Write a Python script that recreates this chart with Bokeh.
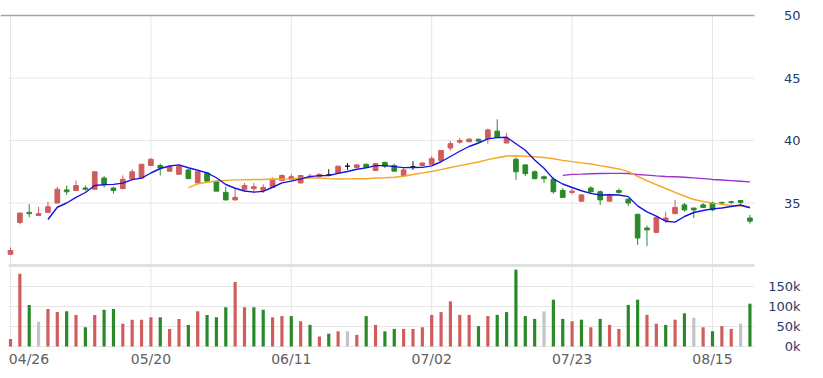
import numpy as np
import pandas as pd
from bokeh.plotting import figure
from bokeh.models import ColumnDataSource, Range1d
from bokeh.core.properties import value
from bokeh.embed import file_html
from bokeh.resources import INLINE

# ---------------- data ----------------
tick_labels = ["04/26", "05/20", "06/11", "07/02", "07/23", "08/15"]
tick_index = [0, 15, 30, 45, 60, 75]

opens = [30.9, 33.45, 34.25, 34.0, 34.25, 35.0, 36.05, 36.0, 36.2, 36.1,
         37.0, 36.2, 36.15, 36.95, 37.0, 38.0, 38.0, 37.55, 37.3, 37.65,
         36.6, 37.4, 36.7, 35.85, 35.25, 36.1, 36.15, 36.0, 36.25, 36.8,
         36.9, 36.6, 37.1, 37.1, 37.25, 37.4, 37.95, 37.85, 38.1, 37.6,
         38.25, 38.0, 37.2, 37.9, 38.0, 38.1, 38.4, 39.4, 39.87, 39.9,
         40.1, 40.15, 40.75, 39.8, 38.5, 38.05, 37.5, 37.1, 36.9, 36.0,
         35.85, 35.15, 36.2, 35.9, 35.15, 36.0, 35.3, 34.1, 33.0, 32.65,
         33.6, 34.15, 34.85, 34.6, 34.85, 35.0, 35.05, 35.1, 35.2, 33.8]
highs = [31.45, 34.2, 34.9, 34.7, 35.1, 36.3, 36.4, 36.8, 36.4, 37.5,
         37.15, 36.3, 37.2, 37.7, 38.1, 38.6, 38.15, 37.95, 38.0, 37.7,
         37.5, 37.5, 36.75, 36.3, 36.2, 36.6, 36.6, 36.5, 37.05, 37.3,
         37.3, 37.25, 37.35, 37.35, 37.7, 37.95, 38.2, 38.1, 38.15, 38.2,
         38.3, 38.15, 37.8, 38.35, 38.25, 38.75, 39.2, 39.95, 40.2, 40.2,
         40.15, 40.95, 41.7, 40.6, 38.65, 38.1, 37.6, 37.2, 37.05, 36.2,
         36.15, 35.7, 36.35, 36.0, 35.75, 36.15, 35.4, 34.1, 33.2, 33.9,
         34.3, 35.25, 35.0, 34.6, 35.0, 35.1, 35.1, 35.15, 35.2, 34.05]
lows = [30.85, 33.3, 33.85, 33.95, 34.25, 35.0, 35.65, 36.0, 36.0, 36.1,
        36.25, 35.75, 36.15, 36.9, 37.0, 38.0, 37.2, 37.5, 37.3, 36.95,
        36.6, 36.7, 35.95, 35.2, 35.2, 35.9, 35.8, 35.8, 36.25, 36.75,
        36.8, 36.6, 37.0, 37.05, 37.15, 37.4, 37.65, 37.8, 37.8, 37.6,
        37.8, 37.5, 37.2, 37.65, 38.0, 38.1, 38.4, 39.2, 39.75, 39.9,
        39.9, 39.75, 40.2, 39.8, 36.85, 37.15, 36.9, 36.6, 35.75, 35.4,
        35.7, 35.1, 35.7, 34.85, 35.1, 35.75, 34.75, 31.65, 31.55, 32.65,
        33.4, 34.1, 34.3, 33.8, 34.6, 34.35, 34.85, 34.9, 34.9, 33.35]
closes = [31.2, 34.2, 34.15, 34.15, 34.7, 36.1, 35.9, 36.4, 36.1, 37.5,
          36.45, 36.0, 36.9, 37.5, 38.1, 38.5, 37.8, 37.9, 37.95, 36.95,
          37.5, 36.75, 35.95, 35.25, 35.45, 36.4, 36.3, 36.25, 36.9, 37.2,
          37.1, 37.2, 37.15, 37.3, 37.25, 37.95, 37.95, 38.05, 37.85, 38.15,
          37.95, 37.55, 37.65, 37.9, 38.2, 38.55, 39.2, 39.75, 40.0, 40.1,
          39.95, 40.85, 40.25, 40.15, 37.5, 37.35, 36.95, 36.95, 35.9, 35.45,
          35.95, 35.65, 35.9, 35.25, 35.55, 35.85, 35.0, 32.2, 32.85, 33.85,
          33.8, 34.65, 34.45, 34.45, 34.65, 34.45, 35.0, 35.05, 35.05, 33.55]
volumes_k = [19, 182, 104, 62, 94, 86, 88, 79, 48, 79,
             92, 94, 57, 67, 67, 73, 73, 44, 69, 54,
             88, 79, 73, 98, 161, 98, 98, 92, 73, 76,
             76, 63, 54, 25, 32, 38, 38, 29, 76, 54,
             38, 44, 44, 44, 48, 79, 86, 113, 79, 79,
             51, 76, 79, 86, 192, 76, 69, 88, 117, 69,
             63, 67, 48, 69, 54, 44, 104, 117, 79, 57,
             54, 67, 83, 72, 48, 38, 51, 44, 57, 107]
ma_periods = [5, 20, 60]
price_ticks = [35, 40, 45, 50]
price_floor = 30
vol_ticks_k = [0, 50, 100, 150]
vol_ceiling_k = 200

# ---------------- layout / styling constants ----------------
W, H = 823, 378
RED, GREEN, GRAY, BLACK = "#d05c5c", "#2a8a2a", "#c4c4c4", "#111111"
MA_COLORS = ["#1414e0", "#f5a623", "#9b30d0"]
GRID = "#e6e6e6"
FONT = "DejaVu Sans"
PPB = 9.36                 # pixels per bar
FIRST_BAR_PX = 10          # pixel of bar 0
PLOT_L, PLOT_R = 8, 754    # plot area in px
PRICE_TOP_PX, PRICE_BOT_PX = 15, 265
PX_PER_UNIT = (PRICE_BOT_PX - PRICE_TOP_PX) / (price_ticks[-1] - price_floor)
VOL_ZERO_PX, VOL_TOP_PX = 346, 266
VOL_PER_PX = vol_ceiling_k * 1000 / (VOL_ZERO_PX - VOL_TOP_PX)


def px_to_i(px):
    return (px - FIRST_BAR_PX) / PPB


X0, X1 = px_to_i(PLOT_L), px_to_i(PLOT_R)
p_hi = price_ticks[-1] + PRICE_TOP_PX / PX_PER_UNIT
p_lo = price_ticks[-1] - (H - PRICE_TOP_PX) / PX_PER_UNIT
v_hi = VOL_ZERO_PX * VOL_PER_PX
v_lo = -(H - VOL_ZERO_PX) * VOL_PER_PX

n = len(closes)
idx = np.arange(n)
o = np.array(opens); c = np.array(closes)
candle_color = np.where(c > o, RED, np.where(c < o, GREEN, BLACK))
prev = np.concatenate([[o[0]], c[:-1]])
vol_color = np.where(c > prev, RED, np.where(c < prev, GREEN, GRAY))

cs = ColumnDataSource(dict(x=idx, h=highs, l=lows,
                           top=np.maximum(o, c), bottom=np.minimum(o, c),
                           color=candle_color))
vs = ColumnDataSource(dict(x=idx, v=np.array(volumes_k) * 1000, color=vol_color))
cser = pd.Series(closes)

p = figure(width=W, height=H,
           x_range=Range1d(px_to_i(0), px_to_i(W)),
           y_range=Range1d(p_lo, p_hi),
           min_border=0, x_axis_type=None, y_axis_type=None,
           toolbar_location=None, output_backend="svg")
p.extra_y_ranges = {"vol": Range1d(v_lo, v_hi)}
p.outline_line_color = None
p.background_fill_color = "white"
p.border_fill_color = "white"

# ---- grid of the price panel
p.segment(x0=tick_index, y0=[price_floor] * len(tick_index),
          x1=tick_index, y1=[price_ticks[-1]] * len(tick_index),
          line_color=GRID, line_width=1)
p.segment(x0=[X0] * 3, y0=price_ticks[:-1], x1=[X1] * 3, y1=price_ticks[:-1],
          line_color=GRID, line_width=1)
p.segment(x0=[px_to_i(0)], y0=[price_ticks[-1]], x1=[X1], y1=[price_ticks[-1]],
          line_color="#b9a27f", line_width=1.5)

# ---- grid of the volume panel
vt = [v * 1000 for v in vol_ticks_k]
p.segment(x0=tick_index, y0=[0] * len(tick_index),
          x1=tick_index, y1=[vol_ceiling_k * 1000] * len(tick_index),
          line_color=GRID, line_width=1, y_range_name="vol")
p.segment(x0=[X0] * len(vt), y0=vt, x1=[X1] * len(vt), y1=vt,
          line_color=GRID, line_width=1, y_range_name="vol")
p.segment(x0=[X0], y0=[price_floor], x1=[X1], y1=[price_floor],
          line_color="#e0e0e0", line_width=3)

# ---- candles
p.segment(x0="x", y0="l", x1="x", y1="h", source=cs, line_color="color", line_width=1)
p.vbar(x="x", width=0.5, top="top", bottom="bottom", source=cs,
       fill_color="color", line_color="color", line_width=1)

# ---- moving averages
for per, col in zip(ma_periods[::-1], MA_COLORS[::-1]):
    ma = cser.rolling(per).mean().to_numpy()
    p.line(idx, ma, line_color=col, line_width=1.4)

# ---- volume bars
p.vbar(x="x", width=0.34, top="v", bottom=0, source=vs,
       fill_color="color", line_color=None, y_range_name="vol")

# ---- right-hand tick labels (right aligned)
LABEL_X = px_to_i(800)
p.text(x=[LABEL_X] * len(price_ticks), y=price_ticks, text=[str(t) for t in price_ticks],
       text_align="right", text_baseline="middle", text_font=value(FONT),
       text_font_size="13px", text_color="#1e3a6b")
p.text(x=[LABEL_X] * len(vt), y=vt, text=[f"{v}k" for v in vol_ticks_k],
       text_align="right", text_baseline="middle", text_font=value(FONT),
       text_font_size="13px", text_color="#1e3a6b", y_range_name="vol")

# ---- date labels under the volume panel (first one kept inside the plot)
half_label = 20.5 / PPB
label_pos = [max(t, X0 + half_label) for t in tick_index]
label_y = -(358 - VOL_ZERO_PX) * VOL_PER_PX
p.text(x=label_pos, y=[label_y] * len(label_pos), text=tick_labels,
       text_align="center", text_baseline="middle", text_font=value(FONT),
       text_font_size="14px", text_color="#606060", y_range_name="vol")

open("out.html", "w").write(file_html(p, INLINE))
